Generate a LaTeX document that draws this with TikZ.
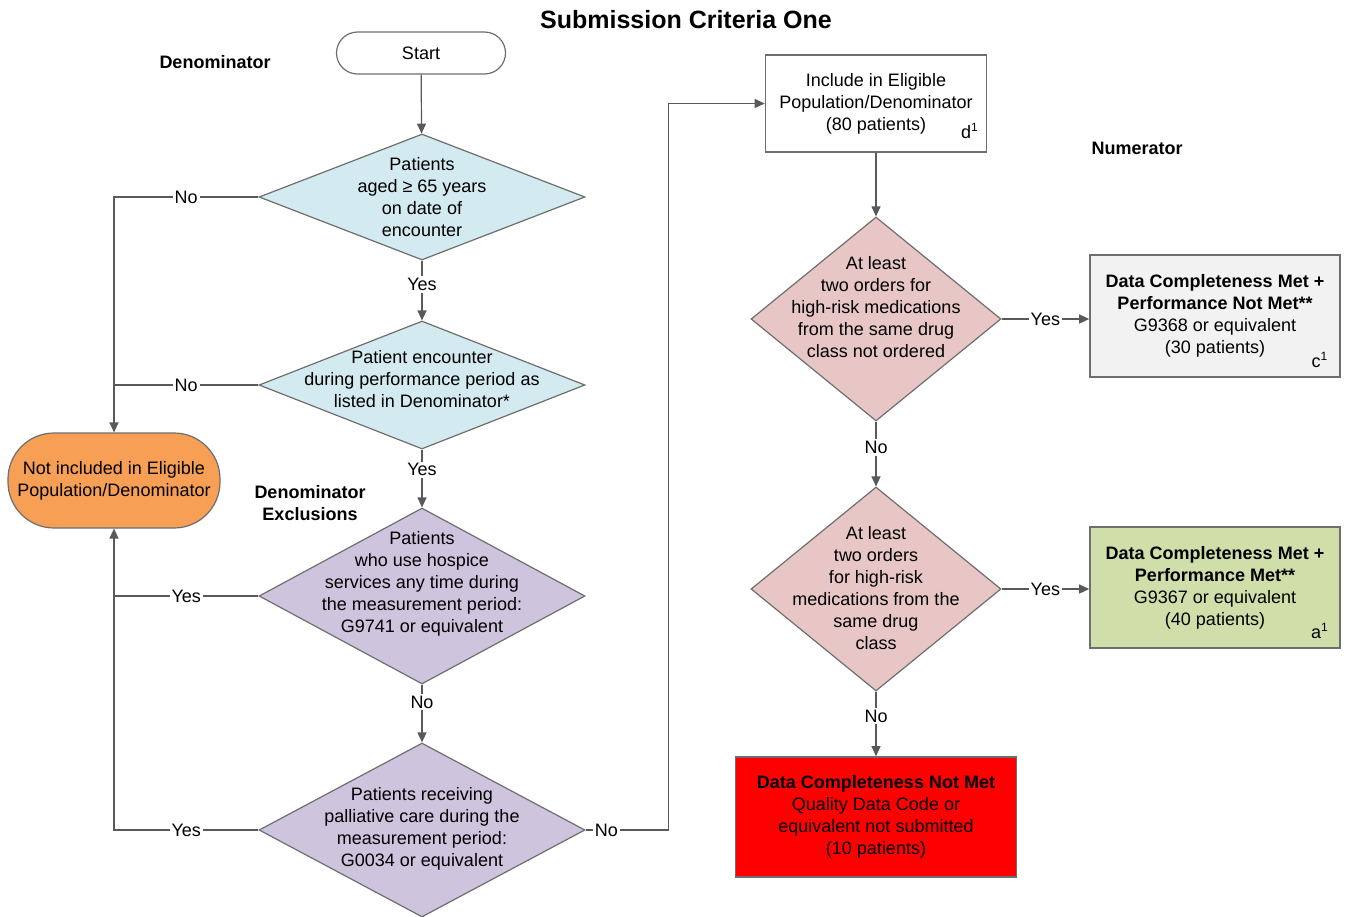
\documentclass[tikz,border=0pt]{standalone}
\usepackage{fontspec}
\setmainfont{Liberation Sans}
\usetikzlibrary{shapes.geometric,arrows.meta}
\definecolor{lineg}{HTML}{595959}
\definecolor{boxg}{HTML}{6E6E6E}
\definecolor{dblue}{HTML}{D3EAF0}
\definecolor{dpurple}{HTML}{CEC4DD}
\definecolor{dpink}{HTML}{E8C6C6}
\definecolor{torange}{HTML}{F79F55}
\definecolor{bgray}{HTML}{F2F2F2}
\definecolor{bgreen}{HTML}{D0DFAA}
\definecolor{bred}{HTML}{FF0000}
\begin{document}
\begin{tikzpicture}[x=0.5pt,y=-0.5pt,
  font=\fontsize{9}{11}\selectfont,
  dia/.style={diamond, draw=boxg, line width=0.6pt, inner sep=0pt},
  txt/.style={align=center, inner sep=0pt, text=black},
  rbox/.style={rectangle, draw=boxg, line width=0.8pt, align=center, inner sep=0pt, text=black},
  conn/.style={draw=lineg, line width=0.6pt, -{Triangle[length=5pt,width=4.5pt]}},
  plain/.style={draw=lineg, line width=0.6pt},
  lbl/.style={fill=white, inner sep=1pt, text=black},
  heading/.style={font=\fontsize{9}{11}\selectfont\bfseries, align=center, inner sep=0pt},
  sup/.style={inner sep=0pt, text=black}
]
\useasboundingbox (0,0) rectangle (1348,916);

\node[font=\fontsize{12.5}{15}\selectfont\bfseries] (title) at (686,20) {Submission Criteria One};
\node[heading] (hden) at (215,62) {Denominator};
\node[heading] (hnum) at (1137,148) {Numerator};
\node[heading] (hexc) at (310,503) {Denominator\\Exclusions};

% left column
\node[rectangle, draw=boxg, line width=0.6pt, rounded corners=10.5pt, minimum width=84.5pt, minimum height=21pt, fill=white] (start) at (421,53) {Start};

\node[dia, fill=dblue, minimum width=163pt, minimum height=63pt] (d1) at (422,197) {};
\node[txt] (d1t) at (422,197) {Patients\\aged ≥ 65 years\\on date of\\encounter};

\node[dia, fill=dblue, minimum width=163pt, minimum height=64pt] (d2) at (422,385) {};
\node[txt] (d2t) at (422,379) {Patient encounter\\during performance period as\\listed in Denominator*};

\node[dia, fill=dpurple, minimum width=163pt, minimum height=88pt] (d3) at (422,596) {};
\node[txt] (d3t) at (422,584) {Patients\\who use hospice\\services any time during\\the measurement period:\\G9741 or equivalent};

\node[dia, fill=dpurple, minimum width=163pt, minimum height=87pt] (d4) at (422,830) {};
\node[txt] (d4t) at (422,829) {Patients receiving\\palliative care during the\\measurement period:\\G0034 or equivalent};

\node[rectangle, draw=boxg, line width=0.6pt, fill=torange, rounded corners=23pt, minimum width=106pt, minimum height=47.5pt, align=center, inner sep=0pt] (term) at (114,480.5) {Not included in Eligible\\Population/Denominator};

% right column
\node[rbox, fill=white, minimum width=110.5pt, minimum height=48.5pt] (inc) at (876,103.5) {Include in Eligible\\Population/Denominator\\(80 patients)};
\node[sup] (dsup) at (970,131) {d\textsuperscript{1}};

\node[dia, fill=dpink, minimum width=125pt, minimum height=102pt] (d5) at (876,319) {};
\node[txt] (d5t) at (876,307) {At least\\two orders for\\high-risk medications\\from the same drug\\class not ordered};

\node[dia, fill=dpink, minimum width=125pt, minimum height=102pt] (d6) at (876,589) {};
\node[txt] (d6t) at (876,588) {At least\\two orders\\for high-risk\\medications from the\\same drug\\class};

\node[rbox, fill=bgray, minimum width=125pt, minimum height=61pt] (cbox) at (1215,316) {\textbf{Data Completeness Met +}\\\textbf{Performance Not Met**}\\G9368 or equivalent\\(30 patients)};
\node[sup] (csup) at (1320,360) {c\textsuperscript{1}};

\node[rbox, fill=bgreen, minimum width=125pt, minimum height=60.5pt] (abox) at (1215,587.5) {\textbf{Data Completeness Met +}\\\textbf{Performance Met**}\\G9367 or equivalent\\(40 patients)};
\node[sup] (asup) at (1320,631) {a\textsuperscript{1}};

\node[rbox, fill=bred, minimum width=140.5pt, minimum height=60pt] (red) at (876,817) {\textbf{Data Completeness Not Met}\\Quality Data Code or\\equivalent not submitted\\(10 patients)};

% connectors
\draw[conn] (start) -- (d1);
\draw[conn] (d1) -- node[lbl,pos=.4]{Yes} (d2);
\draw[conn] (d2) -- node[lbl,pos=.35]{Yes} (d3);
\draw[conn] (d3) -- node[lbl,pos=.3]{No} (d4);
\draw[conn] (d1.west) -- node[lbl]{No} (term.north |- d1.west) -- (term.north);
\draw[plain] (d2.west) -- node[lbl]{No} (term.north |- d2.west);
\draw[conn] (d3.west) -- node[lbl]{Yes} (term.south |- d3.west) -- (term.south);
\draw[plain] (d4.west) -- node[lbl]{Yes} (term.south |- d4.west) -- (term.south |- d3.west);
\draw[conn] (d4.east) -- node[lbl,pos=.25]{No} ++(83,0) |- (inc.west);
\draw[conn] (inc) -- (d5);
\draw[conn] (d5.east) -- node[lbl]{Yes} (cbox.west |- d5.east);
\draw[conn] (d5) -- node[lbl,pos=.4]{No} (d6);
\draw[conn] (d6.east) -- node[lbl]{Yes} (abox.west |- d6.east);
\draw[conn] (d6) -- node[lbl,pos=.38]{No} (red);
\end{tikzpicture}
\end{document}
